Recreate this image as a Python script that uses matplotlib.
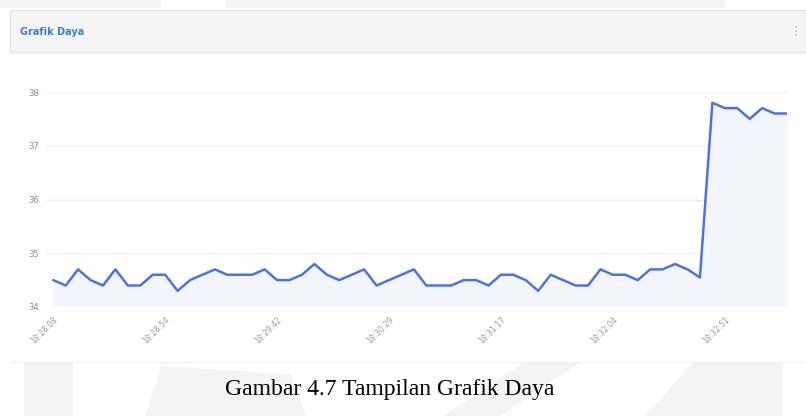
import matplotlib
matplotlib.use("Agg")
import matplotlib.pyplot as plt
from matplotlib.patches import Rectangle, Polygon
import numpy as np

# data (power, one sample every ~5 s)
daya = [34.5, 34.4, 34.7, 34.5, 34.4, 34.7, 34.4, 34.4, 34.6, 34.6,
        34.3, 34.5, 34.6, 34.7, 34.6, 34.6, 34.6, 34.7, 34.5, 34.5,
        34.6, 34.8, 34.6, 34.5, 34.6, 34.7, 34.4, 34.5, 34.6, 34.7,
        34.4, 34.4, 34.4, 34.5, 34.5, 34.4, 34.6, 34.6, 34.5, 34.3,
        34.6, 34.5, 34.4, 34.4, 34.7, 34.6, 34.6, 34.5, 34.7, 34.7,
        34.8, 34.7, 34.55, 37.8, 37.7, 37.7, 37.5, 37.7, 37.6, 37.6]
tick_idx = [0, 9, 18, 27, 36, 45, 54]
tick_labels = ["18:28:08", "18:28:54", "18:29:42", "18:30:29",
               "18:31:17", "18:32:04", "18:32:51"]
y_ticks = [34, 35, 36, 37, 38]

W, H = 806, 416
narrow = ["Liberation Sans Narrow", "DejaVu Sans"]
fig = plt.figure(figsize=(W / 100, H / 100), dpi=100)
fig.patch.set_facecolor("white")

# faint watermark shapes in the background
wm = "#f4f4f4"
for pts in [[(0.03, 0.0), (0.09, 0.0), (0.09, 0.13), (0.03, 0.13)],
            [(0.18, 0.0), (0.38, 0.0), (0.36, 0.1), (0.2, 0.12)],
            [(0.55, 0.0), (0.62, 0.0), (0.72, 0.13), (0.65, 0.13)],
            [(0.80, 0.0), (0.97, 0.0), (0.97, 0.13), (0.86, 0.13)],
            [(0.0, 0.98), (0.2, 0.98), (0.2, 1.0), (0.0, 1.0)],
            [(0.28, 0.98), (0.9, 0.98), (0.9, 1.0), (0.28, 1.0)]]:
    fig.patches.append(Polygon(pts, closed=True, transform=fig.transFigure,
                               facecolor=wm, edgecolor="none", zorder=0))

# header bar of the card
fig.patches.append(Rectangle((10 / W, 1 - 52 / H), 796 / W, 42 / H,
                             transform=fig.transFigure, facecolor="#f5f5f5",
                             edgecolor="#e6e6e6", lw=1.0, zorder=1))
fig.text(20 / W, 1 - 32 / H, "Grafik Daya", color="#3b7ddd", fontsize=7,
         fontweight="bold", family=narrow, va="center", ha="left")
fig.text(796 / W, 1 - 32 / H, "\u22ee", color="#b0b0b0", fontsize=9,
         va="center", ha="center")

# thin line at the bottom of the card
fig.add_artist(plt.Line2D([10 / W, 1.0], [1 - 362 / H, 1 - 362 / H],
                          transform=fig.transFigure, color="#f0f0f0", lw=1))

ax = fig.add_axes([47 / W, 1 - 307 / H, 740 / W, 215 / H])
ax.set_facecolor("none")
x = np.arange(len(daya))
ax.fill_between(x, daya, 34, color="#f3f4fc", lw=0, zorder=1)
ax.plot(x, daya, color="#4a74e6", lw=1.8, solid_joinstyle="round",
        solid_capstyle="round", zorder=3)

ax.set_xlim(-0.5, len(daya) - 1)
ax.set_ylim(34, 38)
ax.set_yticks(y_ticks)
ax.set_yticklabels([str(v) for v in y_ticks], color="#8a8a8a", fontsize=6,
                   family=narrow)
ax.set_xticks(tick_idx)
ax.set_xticklabels(tick_labels, rotation=45, ha="right", va="top",
                   rotation_mode="anchor", color="#9a9a9a", fontsize=5.5,
                   family=narrow)
ax.tick_params(axis="y", length=0, pad=6)
ax.tick_params(axis="x", length=0, pad=6)
ax.grid(axis="y", color="#efefef", lw=1, zorder=0)
ax.set_axisbelow(True)
for s in ax.spines.values():
    s.set_visible(False)

# caption below the screenshot
fig.text(390 / W, 1 - 390 / H, "Gambar 4.7 Tampilan Grafik Daya",
         family=["Liberation Serif", "DejaVu Serif"], fontsize=17,
         color="black", ha="center", va="center")

fig.savefig("out.png", dpi=100)
